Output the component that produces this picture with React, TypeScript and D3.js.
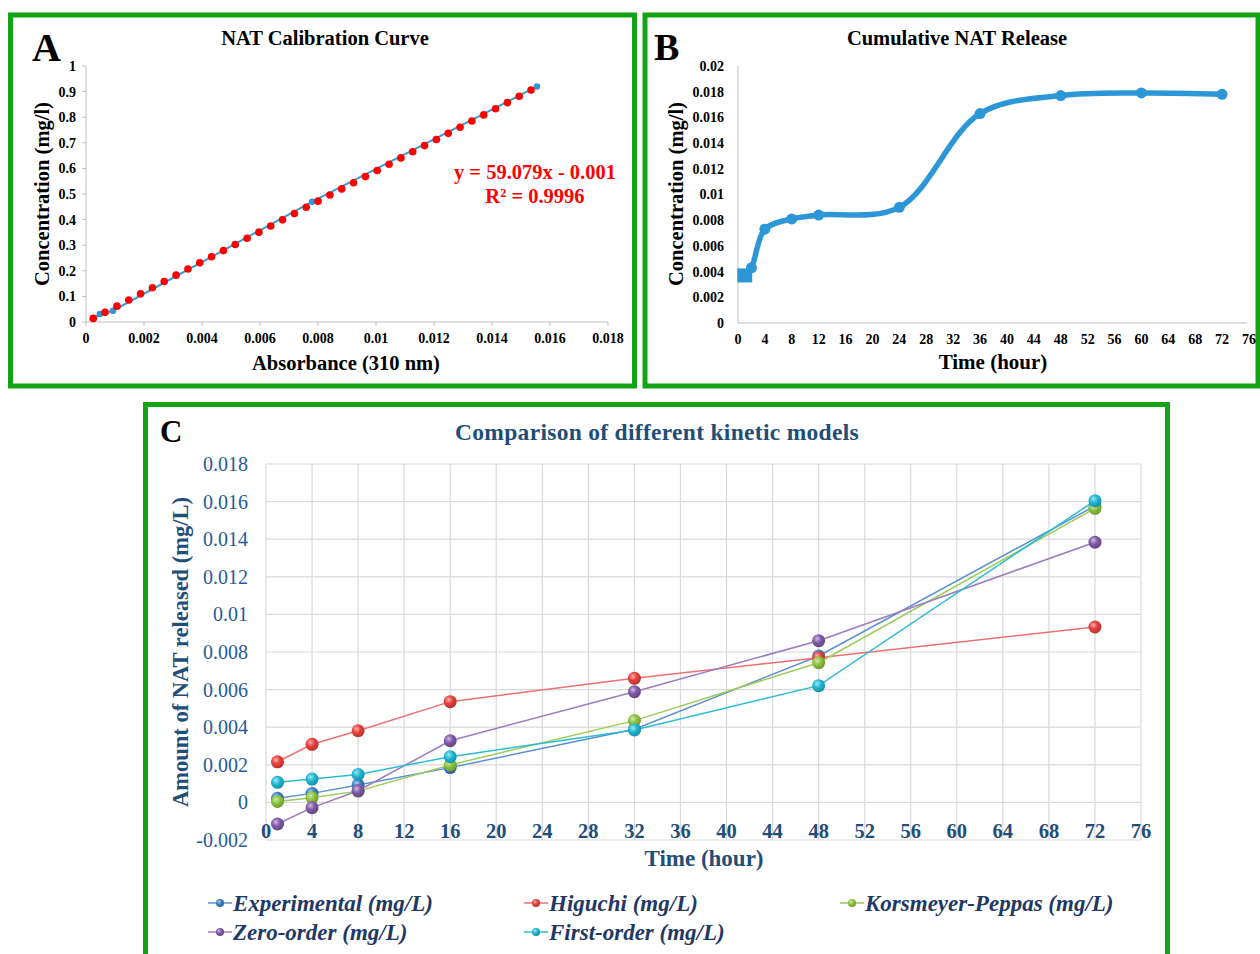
import React from 'react';
import * as d3 from 'd3';

// Panel A – calibration
const calX = [0.00025, 0.000658, 0.001066, 0.001474, 0.001882, 0.00229, 0.002698, 0.003106, 0.003514, 0.003922,
  0.00433, 0.004738, 0.005146, 0.005554, 0.005962, 0.00637, 0.006778, 0.007186, 0.007594, 0.008002,
  0.00841, 0.008818, 0.009226, 0.009634, 0.010042, 0.01045, 0.010858, 0.011266, 0.011674, 0.012082,
  0.01249, 0.012898, 0.013306, 0.013714, 0.014122, 0.01453, 0.014938, 0.015346];
const calY = [0.014, 0.038, 0.062, 0.086, 0.110, 0.134, 0.158, 0.183, 0.207, 0.231,
  0.255, 0.279, 0.303, 0.327, 0.351, 0.375, 0.399, 0.424, 0.448, 0.472,
  0.496, 0.520, 0.544, 0.568, 0.592, 0.616, 0.641, 0.665, 0.689, 0.713,
  0.737, 0.761, 0.785, 0.809, 0.833, 0.857, 0.882, 0.906];
const calBlueX = [0.00025, 0.00048, 0.00093, 0.0078, 0.01555];
const calBlueY = [0.014, 0.031, 0.044, 0.47, 0.92];
const calXTicks = [0, 0.002, 0.004, 0.006, 0.008, 0.01, 0.012, 0.014, 0.016, 0.018];
const calYTicks = [0, 0.1, 0.2, 0.3, 0.4, 0.5, 0.6, 0.7, 0.8, 0.9, 1];

// Panel B – cumulative release
const relT = [1, 2, 4, 8, 12, 24, 36, 48, 60, 72];
const relC = [0.0037, 0.0043, 0.0073, 0.0081, 0.0084, 0.0090, 0.0163, 0.0177, 0.0179, 0.0178];
const timeTicks = [0, 4, 8, 12, 16, 20, 24, 28, 32, 36, 40, 44, 48, 52, 56, 60, 64, 68, 72, 76];
const relYTicks = [0, 0.002, 0.004, 0.006, 0.008, 0.01, 0.012, 0.014, 0.016, 0.018, 0.02];

// Panel C – kinetic models
const kinT = [1, 4, 8, 16, 32, 48, 72];
const experimental = [0.00022, 0.00048, 0.00093, 0.00185, 0.00389, 0.00779, 0.01577];
const higuchi = [0.00216, 0.00309, 0.00381, 0.00536, 0.0066, 0.0077, 0.00933];
const korsmeyer = [0.00005, 0.00025, 0.0006, 0.00199, 0.00435, 0.00743, 0.01564];
const zeroOrder = [-0.00115, -0.00028, 0.00062, 0.00328, 0.00589, 0.0086, 0.01384];
const firstOrder = [0.00107, 0.00124, 0.00149, 0.00243, 0.00385, 0.00621, 0.01605];
const kinYTicks = [-0.002, 0, 0.002, 0.004, 0.006, 0.008, 0.01, 0.012, 0.014, 0.016, 0.018];
const seriesNames = ['Experimental (mg/L)', 'Higuchi (mg/L)', 'Korsmeyer-Peppas (mg/L)', 'Zero-order (mg/L)', 'First-order (mg/L)'];
const seriesValues = [experimental, higuchi, korsmeyer, zeroOrder, firstOrder];
const seriesColors = ['#3b7fc4', '#e8403a', '#8cc43c', '#8059a8', '#1fb8d4'];
const lineColors = ['#5b8fd0', '#f07070', '#9ccc5a', '#9a7cc0', '#2cbcd4'];

const serif = '"Liberation Serif", "Times New Roman", serif';
const green = '#14a314';
const navy = '#1f4e79';
const axisGray = '#bfbfbf';

export default function App() {
  // ---- A
  const xA = d3.scaleLinear().domain([0, 0.018]).range([86, 608]);
  const yA = d3.scaleLinear().domain([0, 1]).range([322, 66]);
  const blueLine = d3.line<number>().x((d) => xA(d)).y((_, i) => yA(calBlueY[i]));

  // ---- B
  const xB = d3.scaleLinear().domain([0, 76]).range([738, 1249]);
  const yB = d3.scaleLinear().domain([0, 0.02]).range([323, 66]);
  const relLine = d3.line<number>()
    .x((d) => xB(d))
    .y((_, i) => yB(relC[i]))
    .curve(d3.curveCatmullRom.alpha(0.5));

  // ---- C
  const xC = d3.scaleLinear().domain([0, 76]).range([266, 1141]);
  const yC = d3.scaleLinear().domain([-0.002, 0.018]).range([840, 464]);
  const kinLine = (vals: number[]) =>
    d3.line<number>().x((d) => xC(d)).y((_, i) => yC(vals[i]))(kinT) || '';

  const legendPos = [
    [220, 903], [536, 903], [852, 903], [220, 932], [536, 932],
  ];

  return (
    <svg width={1260} height={954} style={{ position: 'absolute', left: 0, top: 0, background: '#fff' }}
      fontFamily={serif}>
      <defs>
        {seriesColors.map((c, i) => {
          const light = d3.interpolateRgb(c, '#ffffff')(0.6);
          const dark = d3.color(c)!.darker(0.8).formatHex();
          return (
            <radialGradient key={i} id={`sph${i}`} cx="38%" cy="35%" r="70%">
              <stop offset="0%" stopColor={light} />
              <stop offset="45%" stopColor={c} />
              <stop offset="100%" stopColor={dark} />
            </radialGradient>
          );
        })}
      </defs>
      <rect x={0} y={0} width={1260} height={954} fill="#fff" />

      {/* ================= Panel A ================= */}
      <rect x={10.5} y={15} width={624} height={371} fill="none" stroke={green} strokeWidth={5} />
      <text x={32} y={61} fontSize={40} fontWeight="bold">A</text>
      <text x={325} y={45} fontSize={20.5} fontWeight="bold" textAnchor="middle">NAT Calibration Curve</text>
      <line x1={xA(0)} x2={xA(0)} y1={yA(1)} y2={yA(0)} stroke={axisGray} />
      <line x1={xA(0)} x2={xA(0.018)} y1={yA(0)} y2={yA(0)} stroke={axisGray} />
      {calYTicks.map((t) => (
        <g key={t}>
          <line x1={xA(0) - 4} x2={xA(0)} y1={yA(t)} y2={yA(t)} stroke={axisGray} />
          <text x={xA(0) - 10} y={yA(t)} dy="0.35em" fontSize={14} fontWeight="bold" textAnchor="end">{String(t)}</text>
        </g>
      ))}
      {calXTicks.map((t) => (
        <g key={t}>
          <line x1={xA(t)} x2={xA(t)} y1={yA(0)} y2={yA(0) + 4} stroke={axisGray} />
          <text x={xA(t)} y={yA(0) + 21} fontSize={14} fontWeight="bold" textAnchor="middle">{String(t)}</text>
        </g>
      ))}
      <text x={346} y={370} fontSize={20.5} fontWeight="bold" textAnchor="middle">Absorbance (310 nm)</text>
      <text transform="translate(49,194) rotate(-90)" fontSize={20.5} fontWeight="bold" textAnchor="middle">Concentration (mg/l)</text>
      <path d={blueLine(calBlueX) || ''} fill="none" stroke="#3a9ad9" strokeWidth={2} />
      {calBlueX.map((x, i) => (
        <circle key={i} cx={xA(x)} cy={yA(calBlueY[i])} r={3.3} fill="#2f95d8" />
      ))}
      {calX.map((x, i) => (
        <circle key={i} cx={xA(x)} cy={yA(calY[i])} r={3.8} fill="#ff0000" />
      ))}
      <text x={535} y={179} fontSize={20.5} fontWeight="bold" fill="#ff0000" textAnchor="middle">y = 59.079x - 0.001</text>
      <text x={535} y={203} fontSize={20.5} fontWeight="bold" fill="#ff0000" textAnchor="middle">R² = 0.9996</text>

      {/* ================= Panel B ================= */}
      <rect x={645} y={15} width={613} height={371} fill="none" stroke={green} strokeWidth={5} />
      <text x={654} y={60} fontSize={38} fontWeight="bold">B</text>
      <text x={957} y={45} fontSize={20.5} fontWeight="bold" textAnchor="middle">Cumulative NAT Release</text>
      <line x1={xB(0)} x2={xB(0)} y1={yB(0.02)} y2={yB(0)} stroke={axisGray} />
      <line x1={xB(0)} x2={1247} y1={yB(0)} y2={yB(0)} stroke={axisGray} />
      {relYTicks.map((t) => (
        <text key={t} x={724} y={yB(t)} dy="0.35em" fontSize={14} fontWeight="bold" textAnchor="end">{String(t)}</text>
      ))}
      {timeTicks.map((t) => (
        <text key={t} x={xB(t)} y={yB(0) + 21} fontSize={14} fontWeight="bold" textAnchor="middle">{String(t)}</text>
      ))}
      <text x={993} y={369} fontSize={21} fontWeight="bold" textAnchor="middle">Time (hour)</text>
      <text transform="translate(683,194) rotate(-90)" fontSize={20.5} fontWeight="bold" textAnchor="middle">Concentration (mg/l)</text>
      <path d={relLine(relT) || ''} fill="none" stroke="#2d96d6" strokeWidth={5.5} strokeLinejoin="round" />
      {relT.map((t, i) =>
        i === 0 ? (
          <rect key={i} x={xB(t) - 7.5} y={yB(relC[i]) - 7} width={15} height={14} fill="#2d96d6" />
        ) : (
          <circle key={i} cx={xB(t)} cy={yB(relC[i])} r={5.5} fill="#2d96d6" />
        )
      )}

      {/* ================= Panel C ================= */}
      <rect x={145.5} y={404.5} width={1022} height={560} fill="none" stroke={green} strokeWidth={5} />
      <text x={160} y={442} fontSize={31} fontWeight="bold">C</text>
      <text x={657} y={440} fontSize={23.5} fontWeight="bold" fill={navy} textAnchor="middle" letterSpacing={0.3}>
        Comparison of different kinetic models
      </text>
      {timeTicks.map((t) => (
        <line key={t} x1={xC(t)} x2={xC(t)} y1={yC(0.018)} y2={yC(-0.002)} stroke="#d9d9d9" strokeWidth={1.2} />
      ))}
      {kinYTicks.map((t) => (
        <line key={t} x1={xC(0)} x2={xC(76)} y1={yC(t)} y2={yC(t)} stroke="#d9d9d9" strokeWidth={1.2} />
      ))}
      {kinYTicks.map((t) => (
        <text key={t} x={248} y={yC(t)} dy="0.35em" fontSize={20} fill="#1f5c99" textAnchor="end">{String(t)}</text>
      ))}
      {timeTicks.map((t) => (
        <text key={t} x={xC(t)} y={yC(0) + 36} fontSize={20.5} fontWeight="bold" fill={navy} textAnchor="middle">{String(t)}</text>
      ))}
      <text x={704} y={866} fontSize={23} fontWeight="bold" fill={navy} textAnchor="middle">Time (hour)</text>
      <text transform="translate(188,652) rotate(-90)" fontSize={22.5} fontWeight="bold" fill={navy} textAnchor="middle">
        Amount of NAT released (mg/L)
      </text>
      {seriesValues.map((vals, s) => (
        <g key={s}>
          <path d={kinLine(vals)} fill="none" stroke={lineColors[s]} strokeWidth={1.5} />
          {kinT.map((t, i) => (
            <circle key={i} cx={xC(t)} cy={yC(vals[i])} r={6.5} fill={`url(#sph${s})`} />
          ))}
        </g>
      ))}
      {seriesNames.map((name, s) => {
        const [lx, ly] = legendPos[s];
        return (
          <g key={name}>
            <line x1={lx - 12} x2={lx + 12} y1={ly} y2={ly} stroke={lineColors[s]} strokeWidth={1.5} />
            <circle cx={lx} cy={ly} r={4} fill={`url(#sph${s})`} />
            <text x={lx + 13} y={ly} dy="0.35em" fontSize={23} fontWeight="bold" fontStyle="italic" fill="#1f3864">{name}</text>
          </g>
        );
      })}
    </svg>
  );
}
